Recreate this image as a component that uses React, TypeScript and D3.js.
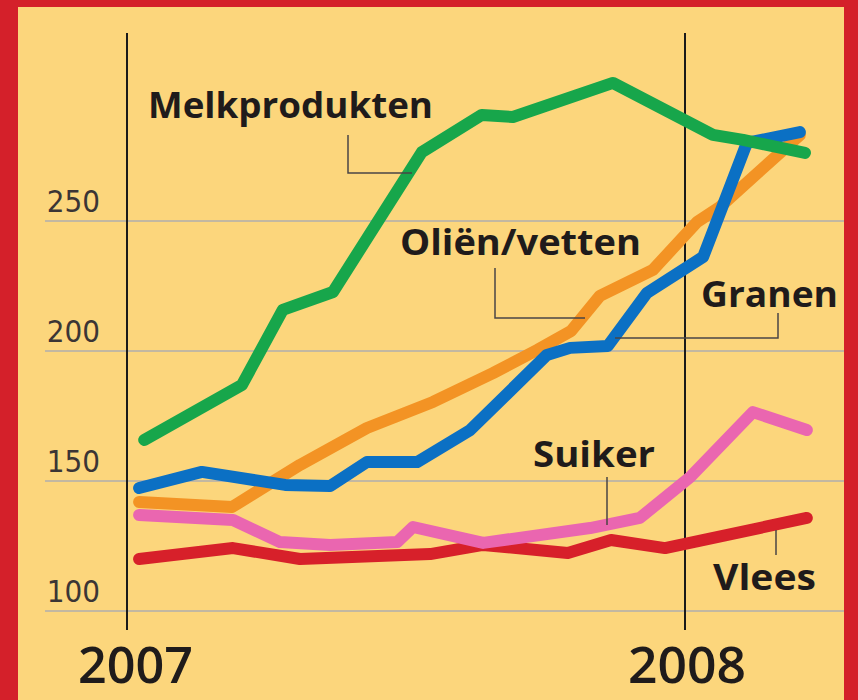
import React from "react";
import * as d3 from "d3";

// months since Jan 2007 (0 = 2007, 12 = 2008), index value
const melkMonths = [0.37, 2.47, 3.35, 4.43, 6.34, 7.63, 8.3, 10.45, 12.6, 13.25, 14.58];
const melkValues = [165.8, 186.9, 215.8, 222.7, 276.5, 290.8, 290.0, 303.1, 283.1, 281.2, 276.2];

const granenMonths = [0.26, 1.61, 3.4, 4.37, 5.16, 6.24, 7.38, 9.03, 9.53, 10.34, 11.18, 12.39, 13.33, 14.47];
const granenValues = [147.3, 153.5, 148.5, 148.1, 157.3, 157.3, 169.6, 198.5, 201.2, 201.9, 222.3, 236.2, 280.0, 284.2];

const olienMonths = [0.26, 2.26, 3.72, 5.16, 6.58, 7.87, 8.82, 9.55, 10.17, 11.31, 12.26, 12.75, 14.47];
const olienValues = [141.9, 140.0, 156.2, 170.4, 180.4, 191.5, 200.4, 207.7, 221.2, 231.2, 249.6, 255.4, 283.1];

const suikerMonths = [0.26, 2.28, 3.29, 4.37, 5.81, 6.15, 7.66, 9.96, 11.03, 12.11, 13.46, 14.62];
const suikerValues = [136.9, 135.0, 126.5, 125.4, 126.5, 132.3, 126.2, 131.9, 135.8, 151.5, 176.5, 169.6];

const vleesMonths = [0.26, 2.28, 3.72, 6.52, 7.66, 9.48, 10.41, 11.57, 14.62];
const vleesValues = [120.0, 124.2, 120.0, 121.9, 125.4, 122.3, 127.3, 124.2, 135.8];

const yTicks = [100, 150, 200, 250];
const years = ["2007", "2008"];
const yearMonths = [0, 12];

const series = [
  { name: "Vlees", months: vleesMonths, values: vleesValues, color: "#d7202a" },
  { name: "Suiker", months: suikerMonths, values: suikerValues, color: "#ea66b0" },
  { name: "Oliën/vetten", months: olienMonths, values: olienValues, color: "#f39324" },
  { name: "Granen", months: granenMonths, values: granenValues, color: "#0b70c4" },
  { name: "Melkprodukten", months: melkMonths, values: melkValues, color: "#17a64b" },
];

const x = d3.scaleLinear().domain([0, 12]).range([127, 685]);
const y = d3.scaleLinear().domain([100, 250]).range([611, 221]);

const lineGen = d3
  .line<[number, number]>()
  .x((d) => x(d[0]))
  .y((d) => y(d[1]));

const labelFont = "'Open Sans', 'DejaVu Sans', sans-serif";
const ink = "#1f1b1b";

export default function App() {
  return (
    <svg width={858} height={700} style={{ position: "absolute", left: 0, top: 0 }}>
      <rect x={0} y={0} width={858} height={700} fill="#d4202a" />
      <rect x={18} y={7} width={826} height={693} fill="#fcd67c" />

      {/* gridlines */}
      {yTicks.map((t) => (
        <g key={t}>
          <line x1={45} x2={844} y1={y(t)} y2={y(t)} stroke="#8a9ac6" strokeWidth={1.2} />
          <text
            x={100}
            y={y(t) - 9}
            textAnchor="end"
            fontFamily="'Liberation Sans Narrow', 'DejaVu Sans Condensed', sans-serif"
            fontSize={31}
            fill="#3b3535"
          >
            {t}
          </text>
        </g>
      ))}

      {/* year lines */}
      {years.map((yr, i) => (
        <g key={yr}>
          <line
            x1={x(yearMonths[i])}
            x2={x(yearMonths[i])}
            y1={33}
            y2={630}
            stroke="#1a1a1a"
            strokeWidth={2}
          />
          <text
            x={x(yearMonths[i]) + (i === 0 ? -49 : -57)}
            y={683}
            fontFamily={labelFont}
            fontWeight={600}
            fontSize={50}
            fill={ink}
            textLength={i === 0 ? 115 : 118}
            lengthAdjust="spacingAndGlyphs"
          >
            {yr}
          </text>
        </g>
      ))}

      {/* series lines */}
      {series.map((s) => (
        <path
          key={s.name}
          d={lineGen(s.months.map((m, i) => [m, s.values[i]] as [number, number])) || ""}
          fill="none"
          stroke={s.color}
          strokeWidth={12}
          strokeLinejoin="round"
          strokeLinecap="round"
        />
      ))}

      {/* leader lines */}
      <g fill="none" stroke="#4a4545" strokeWidth={1.5}>
        <polyline points="348,135 348,173 412,173" />
        <polyline points="495,268 495,318 585,318" />
        <polyline points="778,313 778,338 615,338" />
        <polyline points="607,477 607,525" />
        <polyline points="776,530 776,555" />
      </g>

      {/* labels */}
      <g fontFamily={labelFont} fontWeight={700} fontSize={36} fill={ink}>
        <text x={148} y={118} textLength={285} lengthAdjust="spacingAndGlyphs">Melkprodukten</text>
        <text x={400} y={255} textLength={241} lengthAdjust="spacingAndGlyphs">Oliën/vetten</text>
        <text x={701} y={307} textLength={137} lengthAdjust="spacingAndGlyphs">Granen</text>
        <text x={533} y={467} textLength={122} lengthAdjust="spacingAndGlyphs">Suiker</text>
        <text x={713} y={590} textLength={103} lengthAdjust="spacingAndGlyphs">Vlees</text>
      </g>
    </svg>
  );
}
